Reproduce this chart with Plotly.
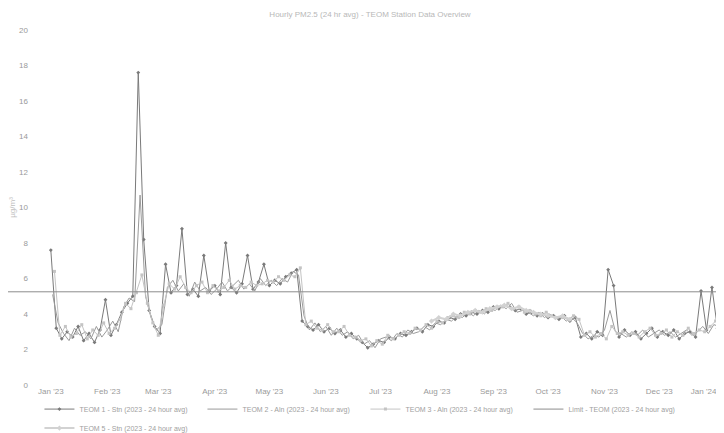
import pandas as pd
import plotly.graph_objects as go

title_text = "Hourly PM2.5 (24 hr avg) - TEOM Station Data Overview"
y_title = "µg/m³"

month_ticks = ["2023-01-01", "2023-02-01", "2023-03-01", "2023-04-01", "2023-05-01",
               "2023-06-01", "2023-07-01", "2023-08-01", "2023-09-01", "2023-10-01",
               "2023-11-01", "2023-12-01", "2024-01-01"]
month_labels = ["Jan '23", "Feb '23", "Mar '23", "Apr '23", "May '23", "Jun '23",
                "Jul '23", "Aug '23", "Sep '23", "Oct '23", "Nov '23", "Dec '23",
                "Jan '24"]

names = ["TEOM 1 - Stn (2023 - 24 hour avg)",
         "TEOM 2 - Aln (2023 - 24 hour avg)",
         "TEOM 3 - Aln (2023 - 24 hour avg)",
         "Limit - TEOM (2023 - 24 hour avg)",
         "TEOM 5 - Stn (2023 - 24 hour avg)"]

series_a_start = "2023-01-01"
series_b_start = "2023-01-02"
series_c_start = "2023-01-03"
series_e_start = "2023-07-29"

series_a = [7.6, 3.2, 2.6, 3.0, 2.7, 3.3, 2.5, 2.9, 2.4, 3.1, 4.8, 2.8, 3.4, 4.1, 4.6, 5.0,
            17.6, 8.2, 4.2, 3.3, 2.9, 6.8, 5.2, 5.6, 8.8, 5.1, 5.4, 5.0, 7.3, 5.3, 5.6, 5.1,
            8.0, 5.5, 5.2, 5.7, 7.3, 5.4, 5.8, 6.8, 5.6, 5.9, 5.7, 6.1, 6.3, 6.5, 3.6, 3.3,
            3.1, 3.4, 3.0, 3.2, 2.9, 3.1, 2.7, 2.9, 2.6, 2.4, 2.1, 2.3, 2.5, 2.4, 2.7, 2.6,
            2.9, 2.8, 3.0, 3.2, 3.0, 3.4, 3.3, 3.6, 3.5, 3.8, 3.7, 4.0, 3.9, 4.1, 4.0, 4.2,
            4.1, 4.4, 4.3, 4.5, 4.4, 4.2, 4.3, 4.0, 4.1, 3.9, 4.0, 3.8, 3.9, 3.7, 3.9, 3.6,
            3.8, 2.7, 2.9, 2.6, 3.0, 2.8, 6.5, 5.6, 2.7, 3.1, 2.8, 3.0, 2.6, 2.9, 3.2, 2.7,
            3.0, 2.8, 3.1, 2.6, 2.9, 3.0, 2.7, 5.3, 3.1, 5.5, 3.2, 3.4, 3.6]

series_b = [5.1, 3.5, 2.9, 2.5, 3.2, 2.8, 3.0, 2.6, 3.3, 2.7, 3.1, 3.6, 3.0, 4.4, 4.9, 4.7,
            10.7, 5.0, 3.8, 3.1, 3.4, 5.5, 5.9, 5.3, 5.7, 5.0, 5.8, 5.3, 5.5, 5.1, 5.4, 5.8,
            5.3, 5.6, 5.9, 5.4, 5.7, 5.3, 6.0, 5.6, 5.9, 5.6, 6.0, 5.8, 6.4, 6.2, 3.9, 3.1,
            3.5, 3.0, 3.3, 2.8, 3.2, 2.8, 3.0, 2.6, 2.8, 2.3, 2.5, 2.1, 2.6, 2.7, 2.5, 2.9,
            2.7, 3.1, 2.9, 3.0, 3.3, 3.1, 3.5, 3.4, 3.7, 3.6, 3.9, 3.8, 4.1, 3.9, 4.2, 4.0,
            4.3, 4.2, 4.5, 4.3, 4.6, 4.1, 4.2, 4.1, 3.9, 4.1, 3.8, 4.0, 3.7, 3.9, 3.6, 3.8,
            3.5, 2.9, 2.6, 2.8, 2.7, 3.1, 4.2, 3.0, 2.9, 2.7, 3.0, 2.8, 3.1, 2.7, 2.9, 3.1,
            2.8, 3.0, 2.7, 2.9, 3.1, 2.8, 3.0, 3.3, 2.9, 3.4, 3.3, 3.5, 3.7]

series_c = [6.4, 2.8, 3.3, 2.7, 2.9, 3.4, 2.6, 3.1, 2.8, 3.5, 2.9, 3.2, 3.7, 4.6, 4.3, 5.2,
            6.2, 4.6, 3.5, 2.8, 4.5, 5.7, 5.4, 6.1, 5.5, 5.2, 5.6, 5.8, 5.2, 5.6, 5.3, 5.5,
            5.9, 5.4, 5.6, 5.5, 5.8, 5.6, 5.7, 5.9, 5.8, 6.1, 5.9, 6.2, 6.1, 6.6, 3.4, 3.6,
            3.2, 3.1, 3.4, 3.0, 3.0, 3.3, 2.8, 2.7, 2.5, 2.6, 2.2, 2.5, 2.3, 2.8, 2.6, 2.8,
            3.0, 2.9, 3.2, 3.1, 3.4, 3.2, 3.6, 3.5, 3.8, 3.9, 3.8, 4.1, 4.0, 4.2, 4.1, 4.3,
            4.2, 4.4, 4.4, 4.6, 4.3, 4.4, 4.1, 4.2, 4.0, 3.9, 4.1, 3.9, 3.8, 3.8, 3.7, 3.9,
            3.7, 2.8, 3.0, 2.7, 2.9, 2.6, 3.3, 2.9, 3.0, 2.8, 2.9, 2.7, 3.0, 3.2, 2.8, 2.9,
            3.1, 2.7, 3.0, 2.8, 3.2, 2.9, 3.1, 3.0, 3.3, 3.6, 3.1, 3.6, 3.8]

series_e = [3.6, 3.8, 3.7, 4.0, 3.9, 4.1, 4.2, 4.1, 4.3, 4.4, 4.5, 4.3, 4.4, 4.2, 4.1,
            4.0, 3.9, 3.8, 3.9, 3.7]

limit_value = 5.25

colors = ["#7a7a7a", "#9a9a9a", "#c4c4c4", "#8c8c8c", "#d2d2d2"]

dates_a = pd.date_range(series_a_start, periods=len(series_a), freq="3D")
dates_b = pd.date_range(series_b_start, periods=len(series_b), freq="3D")
dates_c = pd.date_range(series_c_start, periods=len(series_c), freq="3D")
dates_e = pd.date_range(series_e_start, periods=len(series_e), freq="4D")

fig = go.Figure()
fig.add_trace(go.Scatter(x=dates_a, y=series_a, name=names[0], mode="lines+markers",
                         line=dict(color=colors[0], width=1),
                         marker=dict(symbol="diamond", size=3, color=colors[0])))
fig.add_trace(go.Scatter(x=dates_b, y=series_b, name=names[1], mode="lines",
                         line=dict(color=colors[1], width=1)))
fig.add_trace(go.Scatter(x=dates_c, y=series_c, name=names[2], mode="lines+markers",
                         line=dict(color=colors[2], width=1),
                         marker=dict(symbol="square", size=3, color=colors[2])))
fig.add_trace(go.Scatter(x=[None], y=[None], name=names[3], mode="lines",
                         xaxis="x2", line=dict(color=colors[3], width=1)))
fig.add_trace(go.Scatter(x=dates_e, y=series_e, name=names[4], mode="lines+markers",
                         line=dict(color=colors[4], width=2),
                         marker=dict(symbol="diamond", size=4, color=colors[4])))

left_margin = 41
plot_width = 724 - left_margin

fig.add_shape(type="line", xref="paper", yref="y", x0=-left_margin / plot_width, x1=1,
              y0=limit_value, y1=limit_value, line=dict(color=colors[3], width=1))

x_range = ["2022-12-31", "2024-01-10"]

fig.update_layout(
    width=724, height=433,
    paper_bgcolor="white", plot_bgcolor="white",
    margin=dict(l=left_margin, r=0, t=22, b=56, autoexpand=False),
    font=dict(family="Liberation Sans, Arial, sans-serif", size=8, color="#9a9a9a"),
    title=dict(text=title_text, x=0.5, xanchor="center", y=0.985, yanchor="middle",
               font=dict(size=8, color="#b8b8b8")),
    showlegend=True,
    legend=dict(orientation="h", x=-0.014, xanchor="left", y=-0.027, yanchor="top",
                entrywidth=118, entrywidthmode="pixels", bgcolor="rgba(0,0,0,0)",
                font=dict(size=7, color="#a0a0a0"), itemwidth=30,
                tracegroupgap=0),
    xaxis=dict(type="date", range=x_range,
               tickvals=month_ticks[:-1], ticktext=month_labels[:-1],
               showgrid=False, zeroline=False, showline=False, ticks="",
               tickfont=dict(size=8, color="#9a9a9a")),
    xaxis2=dict(type="date", range=x_range, overlaying="x", side="bottom",
                anchor="y", matches="x",
                tickvals=month_ticks[-1:], ticktext=month_labels[-1:],
                ticklabelshift=-12, ticklabeloverflow="allow",
                showgrid=False, zeroline=False, showline=False, ticks="",
                tickfont=dict(size=8, color="#9a9a9a")),
    yaxis=dict(range=[0, 20], dtick=2, showgrid=False, zeroline=False,
               showline=False, ticks="", ticklabelstandoff=20,
               tickfont=dict(size=8, color="#9a9a9a"),
               title=dict(text=y_title, standoff=6, font=dict(size=8, color="#c0c0c0"))),
)

fig.write_html("out.html")
